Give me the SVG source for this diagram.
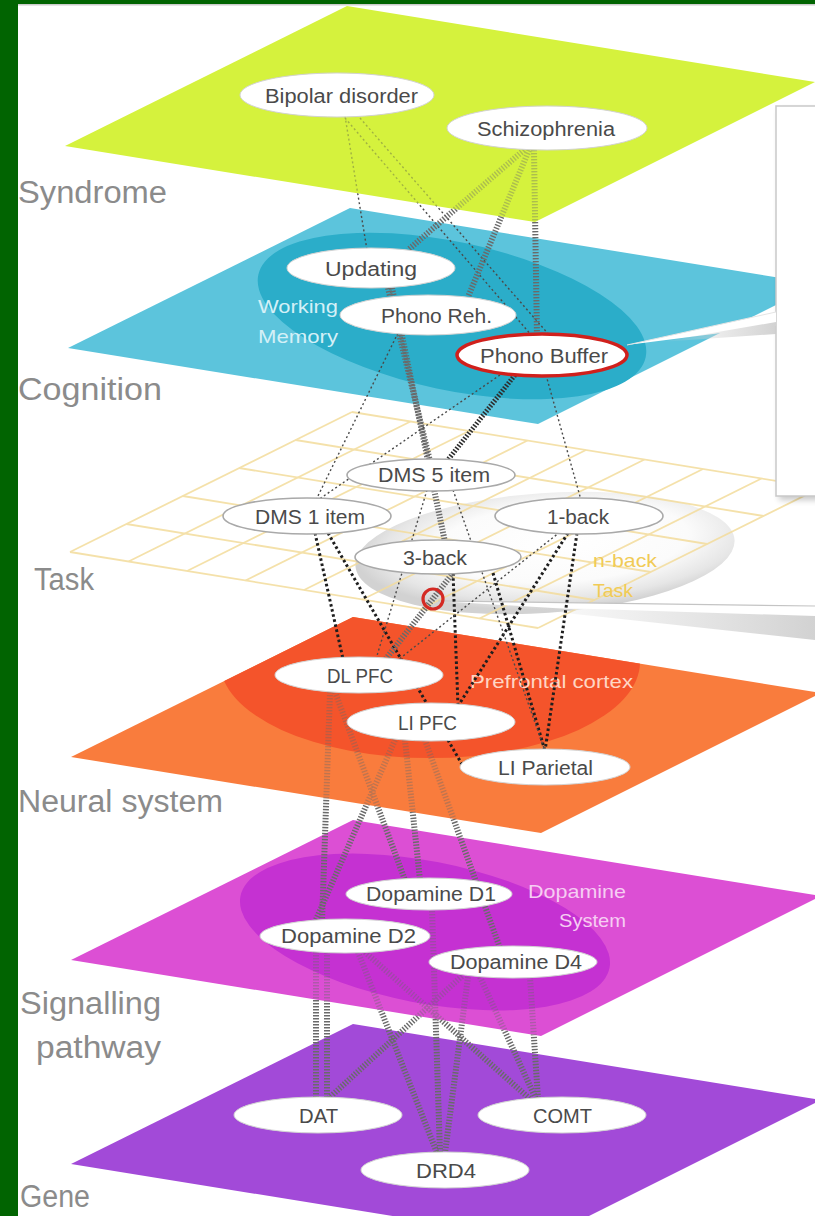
<svg xmlns="http://www.w3.org/2000/svg" width="815" height="1216" viewBox="0 0 815 1216">
<defs>
<style>
.layer{font-family:"Liberation Sans",Arial,sans-serif;font-size:31px;fill:#8b8b8b}
.nt{font-family:"Liberation Sans",Arial,sans-serif;font-size:20px;fill:#4a4a4a}
.rl{font-family:"Liberation Sans",Arial,sans-serif;font-size:19px}
.node{fill:#fff;stroke:#d2d2d2;stroke-width:1}
.tnode{fill:#fff;stroke:#a9a9a9;stroke-width:1.6}
.thin{fill:none;stroke:#4a4a4a;stroke-width:1.4;stroke-dasharray:2 2.6}
.bold{fill:none;stroke:#1e1e1e;stroke-width:3;stroke-dasharray:2.6 2.6}
.hatch{fill:none;stroke:#6a6a6a;stroke-width:6;stroke-dasharray:1.4 1.6}
.hatchd{fill:none;stroke:#2e2e2e;stroke-width:5;stroke-dasharray:1.6 1.6}
.grid{stroke:#f3dc9c;stroke-width:1.8;fill:none}
</style>
<clipPath id="cCog"><polygon points="350,208 818,284 538,424 68,348"/></clipPath>
<clipPath id="cNeu"><polygon points="353,617 821,693 541,833 71,757"/></clipPath>
<clipPath id="cSig"><polygon points="353,820 821,896 541,1036 71,960"/></clipPath>
<mask id="fadeSyn" maskUnits="userSpaceOnUse" x="0" y="0" width="815" height="1216">
<path fill="#fff" fill-rule="evenodd" d="M0 0H815V1216H0Z M347 6L815 82L535 222L65 146Z"/>
<polygon fill="#fff" fill-opacity="0.38" points="347,6 815,82 535,222 65,146"/>
</mask>
<mask id="fadeNeu" maskUnits="userSpaceOnUse" x="0" y="0" width="815" height="1216">
<path fill="#fff" fill-rule="evenodd" d="M0 0H815V1216H0Z M353 617L821 693L541 833L71 757Z"/>
<polygon fill="#fff" fill-opacity="0.4" points="353,617 821,693 541,833 71,757"/>
</mask>
<mask id="fadeSig" maskUnits="userSpaceOnUse" x="0" y="0" width="815" height="1216">
<path fill="#fff" fill-rule="evenodd" d="M0 0H815V1216H0Z M353 820L821 896L541 1036L71 960Z"/>
<polygon fill="#fff" fill-opacity="0.4" points="353,820 821,896 541,1036 71,960"/>
</mask>
<radialGradient id="dish" cx="0.55" cy="0.42" r="0.55">
<stop offset="0" stop-color="#ffffff"/>
<stop offset="0.6" stop-color="#fbfbfb"/>
<stop offset="0.86" stop-color="#e6e6e6"/>
<stop offset="1" stop-color="#d2d2d2"/>
</radialGradient>
<linearGradient id="shade" x1="0" y1="0" x2="1" y2="0">
<stop offset="0" stop-color="#d8d8d8" stop-opacity="0"/>
<stop offset="1" stop-color="#cdcdcd" stop-opacity="0.9"/>
</linearGradient>
<filter id="blur" x="-20%" y="-20%" width="140%" height="140%"><feGaussianBlur stdDeviation="3"/></filter>
</defs>

<rect x="0" y="0" width="815" height="1216" fill="#ffffff"/>

<g id="planes">
<g id="plane-gene"><polygon points="353,1024 821,1100 541,1240 71,1164" fill="#a24ad8"/></g>
<g id="plane-signalling">
<polygon points="353,820 821,896 541,1036 71,960" fill="#dc4fd4"/>
<ellipse cx="425" cy="932" rx="188" ry="71" transform="rotate(11 425 932)" fill="#c531d2" clip-path="url(#cSig)"/>
<text class="rl" x="528" y="898" textLength="98" lengthAdjust="spacingAndGlyphs" fill="#f6cdf3">Dopamine</text>
<text class="rl" x="559" y="927" textLength="67" lengthAdjust="spacingAndGlyphs" fill="#f6cdf3">System</text>
</g>
<g id="plane-neural">
<polygon points="353,617 821,693 541,833 71,757" fill="#f97c3d"/>
<ellipse cx="430" cy="662" rx="210" ry="96" fill="#f4542b" clip-path="url(#cNeu)"/>
<text class="rl" x="470" y="688" textLength="163" lengthAdjust="spacingAndGlyphs" fill="#ffd6c4">Prefrontal cortex</text>
</g>
<g id="plane-task">
<ellipse cx="545" cy="553" rx="190" ry="60" transform="rotate(-4 545 553)" fill="url(#dish)"/>
<g class="grid" opacity="0.85">
<line x1="352" y1="412" x2="820" y2="488"/>
<line x1="295.6" y1="440" x2="763.6" y2="516"/>
<line x1="239.2" y1="468" x2="707.2" y2="544"/>
<line x1="182.8" y1="496" x2="650.8" y2="572"/>
<line x1="126.4" y1="524" x2="594.4" y2="600"/>
<line x1="70" y1="552" x2="538" y2="628"/>
<line x1="352" y1="412" x2="70" y2="552"/>
<line x1="410.5" y1="421.5" x2="128.5" y2="561.5"/>
<line x1="469" y1="431" x2="187" y2="571"/>
<line x1="527.5" y1="440.5" x2="245.5" y2="580.5"/>
<line x1="586" y1="450" x2="304" y2="590"/>
<line x1="644.5" y1="459.5" x2="362.5" y2="599.5"/>
<line x1="703" y1="469" x2="421" y2="609"/>
<line x1="761.5" y1="478.5" x2="479.5" y2="618.5"/>
<line x1="820" y1="488" x2="538" y2="628"/>
</g>
<text class="rl" x="593" y="567" textLength="64" lengthAdjust="spacingAndGlyphs" fill="#f1cb55">n-back</text>
<text class="rl" x="593" y="597" textLength="40" lengthAdjust="spacingAndGlyphs" fill="#f1cb55">Task</text>
</g>
<g id="plane-cognition">
<polygon points="350,208 818,284 538,424 68,348" fill="#5cc4dc"/>
<ellipse cx="452" cy="316" rx="198" ry="74" transform="rotate(12 452 316)" fill="#2badc9" clip-path="url(#cCog)"/>
<text class="rl" x="258" y="313" textLength="80" lengthAdjust="spacingAndGlyphs" fill="#d4f0f7">Working</text>
<text class="rl" x="258" y="343" textLength="80" lengthAdjust="spacingAndGlyphs" fill="#d4f0f7">Memory</text>
</g>
<g id="plane-syndrome"><polygon points="347,6 815,82 535,222 65,146" fill="#d5f23d"/></g>
</g>

<g id="callout">
<rect x="779" y="110" width="60" height="390" fill="#000" opacity="0.22" filter="url(#blur)"/>
<rect x="776" y="106" width="60" height="390" fill="#ffffff" stroke="#c9c9c9" stroke-width="1.5"/>
<polygon points="627,345 776,312 776,326" fill="#ffffff"/>
<polygon points="660,342 776,322 776,334" fill="url(#shade)"/>
<line x1="627" y1="345" x2="776" y2="312" stroke="#e4e4e4" stroke-width="1"/>
<polygon points="438,601 815,606 815,624" fill="#ffffff"/>
<polygon points="500,606 815,616 815,640" fill="url(#shade)"/>
<line x1="438" y1="601" x2="815" y2="606" stroke="#c4c4c4" stroke-width="1.2"/>
</g>

<g id="layer-labels">
<text class="layer" x="18" y="203" textLength="149" lengthAdjust="spacingAndGlyphs">Syndrome</text>
<text class="layer" x="18" y="400" textLength="144" lengthAdjust="spacingAndGlyphs">Cognition</text>
<text class="layer" x="34" y="590" textLength="60" lengthAdjust="spacingAndGlyphs">Task</text>
<text class="layer" x="18" y="812" textLength="205" lengthAdjust="spacingAndGlyphs">Neural system</text>
<text class="layer" x="20" y="1014" textLength="141" lengthAdjust="spacingAndGlyphs">Signalling</text>
<text class="layer" x="36" y="1058" textLength="125" lengthAdjust="spacingAndGlyphs">pathway</text>
<text class="layer" x="20" y="1207" textLength="70" lengthAdjust="spacingAndGlyphs">Gene</text>
</g>

<g id="connectors">
<g id="links-syndrome" mask="url(#fadeSyn)">
<line class="thin" x1="345" y1="116" x2="367" y2="250"/>
<line class="thin" x1="345" y1="118" x2="532" y2="336"/>
<line class="thin" x1="360" y1="118" x2="550" y2="336"/>
<line class="hatch" x1="524" y1="150" x2="408" y2="250"/>
<line class="hatch" x1="529" y1="150" x2="468" y2="297"/>
<line class="hatch" x1="534" y1="150" x2="537" y2="336"/>
</g>
<g id="links-cognition">
<line class="hatch" x1="388" y1="288" x2="430" y2="461"/>
<line class="hatch" x1="392" y1="288" x2="445" y2="542"/>
<line class="hatchd" x1="515" y1="375" x2="447" y2="461"/>
<line class="thin" x1="500" y1="375" x2="318" y2="500"/>
<line class="thin" x1="398" y1="333" x2="316" y2="500"/>
<line class="thin" x1="546" y1="375" x2="581" y2="500"/>
</g>
<g id="links-task">
<line class="bold" x1="315" y1="533" x2="343" y2="659"/>
<line class="bold" x1="328" y1="533" x2="463" y2="766"/>
<line class="thin" x1="427" y1="490" x2="376" y2="659"/>
<line class="hatch" x1="453" y1="573" x2="385" y2="660"/>
<line class="bold" x1="453" y1="573" x2="458" y2="706"/>
<line class="bold" x1="568" y1="533" x2="458" y2="706"/>
<line class="thin" x1="560" y1="532" x2="398" y2="660"/>
<line class="bold" x1="577" y1="533" x2="545" y2="751"/>
<line class="bold" x1="493" y1="573" x2="545" y2="751"/>
<line class="thin" x1="453" y1="490" x2="545" y2="751"/>
</g>
<g id="links-neural" mask="url(#fadeNeu)">
<line class="hatch" x1="330" y1="692" x2="322" y2="922"/>
<line class="hatch" x1="335" y1="692" x2="405" y2="880"/>
<line class="hatch" x1="405" y1="740" x2="420" y2="880"/>
<line class="hatch" x1="425" y1="740" x2="500" y2="948"/>
<line class="hatch" x1="395" y1="740" x2="315" y2="922"/>
</g>
<g id="links-signalling" mask="url(#fadeSig)">
<line class="hatch" x1="316" y1="952" x2="316" y2="1099"/>
<line class="hatch" x1="327" y1="952" x2="327" y2="1099"/>
<line class="hatch" x1="358" y1="952" x2="437" y2="1153"/>
<line class="hatch" x1="365" y1="952" x2="530" y2="1099"/>
<line class="hatch" x1="462" y1="976" x2="328" y2="1099"/>
<line class="hatch" x1="432" y1="908" x2="440" y2="1153"/>
<line class="hatch" x1="468" y1="977" x2="445" y2="1153"/>
<line class="hatch" x1="530" y1="977" x2="538" y2="1099"/>
<line class="hatch" x1="480" y1="977" x2="536" y2="1099"/>
</g>
</g>

<g id="highlight-circle"><circle cx="433" cy="599" r="10" fill="none" stroke="#d42a24" stroke-width="3.2"/></g>

<g id="node-bipolar"><ellipse class="node" cx="337" cy="95" rx="97" ry="22"/><text class="nt" x="265" y="103" textLength="153" lengthAdjust="spacingAndGlyphs">Bipolar disorder</text></g>
<g id="node-schizophrenia"><ellipse class="node" cx="547" cy="128" rx="100" ry="22"/><text class="nt" x="477" y="136" textLength="138" lengthAdjust="spacingAndGlyphs">Schizophrenia</text></g>
<g id="node-updating"><ellipse class="node" cx="371" cy="268" rx="84" ry="20"/><text class="nt" x="325" y="276" textLength="92" lengthAdjust="spacingAndGlyphs">Updating</text></g>
<g id="node-phonoreh"><ellipse class="node" cx="428" cy="315" rx="88" ry="20"/><text class="nt" x="381" y="323" textLength="111" lengthAdjust="spacingAndGlyphs">Phono Reh.</text></g>
<g id="node-phonobuffer"><ellipse cx="542" cy="355" rx="85" ry="21" fill="#fff" stroke="#d0201c" stroke-width="3.5"/><text class="nt" x="480" y="363" textLength="128" lengthAdjust="spacingAndGlyphs">Phono Buffer</text></g>
<g id="node-dms5"><ellipse class="tnode" cx="431" cy="475" rx="84" ry="16"/><text class="nt" x="378" y="482" textLength="112" lengthAdjust="spacingAndGlyphs">DMS 5 item</text></g>
<g id="node-dms1"><ellipse class="tnode" cx="307" cy="516" rx="84" ry="18"/><text class="nt" x="255" y="524" textLength="110" lengthAdjust="spacingAndGlyphs">DMS 1 item</text></g>
<g id="node-1back"><ellipse class="tnode" cx="579" cy="516" rx="84" ry="18"/><text class="nt" x="547" y="524" textLength="62" lengthAdjust="spacingAndGlyphs">1-back</text></g>
<g id="node-3back"><ellipse class="tnode" cx="438" cy="557" rx="83" ry="17"/><text class="nt" x="403" y="565" textLength="64" lengthAdjust="spacingAndGlyphs">3-back</text></g>
<g id="node-dlpfc"><ellipse class="node" cx="359" cy="675" rx="84" ry="18"/><text class="nt" x="327" y="683" textLength="66" lengthAdjust="spacingAndGlyphs">DL PFC</text></g>
<g id="node-lipfc"><ellipse class="node" cx="431" cy="722" rx="84" ry="19"/><text class="nt" x="398" y="730" textLength="59" lengthAdjust="spacingAndGlyphs">LI PFC</text></g>
<g id="node-liparietal"><ellipse class="node" cx="545" cy="767" rx="85" ry="18"/><text class="nt" x="498" y="775" textLength="95" lengthAdjust="spacingAndGlyphs">LI Parietal</text></g>
<g id="node-d1"><ellipse class="node" cx="429" cy="894" rx="83" ry="16"/><text class="nt" x="366" y="901" textLength="130" lengthAdjust="spacingAndGlyphs">Dopamine D1</text></g>
<g id="node-d2"><ellipse class="node" cx="345" cy="936" rx="85" ry="17"/><text class="nt" x="281" y="943" textLength="135" lengthAdjust="spacingAndGlyphs">Dopamine D2</text></g>
<g id="node-d4"><ellipse class="node" cx="513" cy="962" rx="84" ry="16"/><text class="nt" x="450" y="969" textLength="132" lengthAdjust="spacingAndGlyphs">Dopamine D4</text></g>
<g id="node-dat"><ellipse class="node" cx="318" cy="1115" rx="84" ry="18"/><text class="nt" x="299" y="1123" textLength="39" lengthAdjust="spacingAndGlyphs">DAT</text></g>
<g id="node-comt"><ellipse class="node" cx="562" cy="1115" rx="84" ry="18"/><text class="nt" x="533" y="1123" textLength="59" lengthAdjust="spacingAndGlyphs">COMT</text></g>
<g id="node-drd4"><ellipse class="node" cx="445" cy="1170" rx="84" ry="18"/><text class="nt" x="416" y="1178" textLength="60" lengthAdjust="spacingAndGlyphs">DRD4</text></g>

<g id="frame">
<rect x="0" y="0" width="18" height="1216" fill="#016401"/>
<rect x="0" y="0" width="815" height="4" fill="#016401"/>
<rect x="18" y="4" width="797" height="1.5" fill="#aaaaaa" opacity="0.6"/>
</g>
</svg>
